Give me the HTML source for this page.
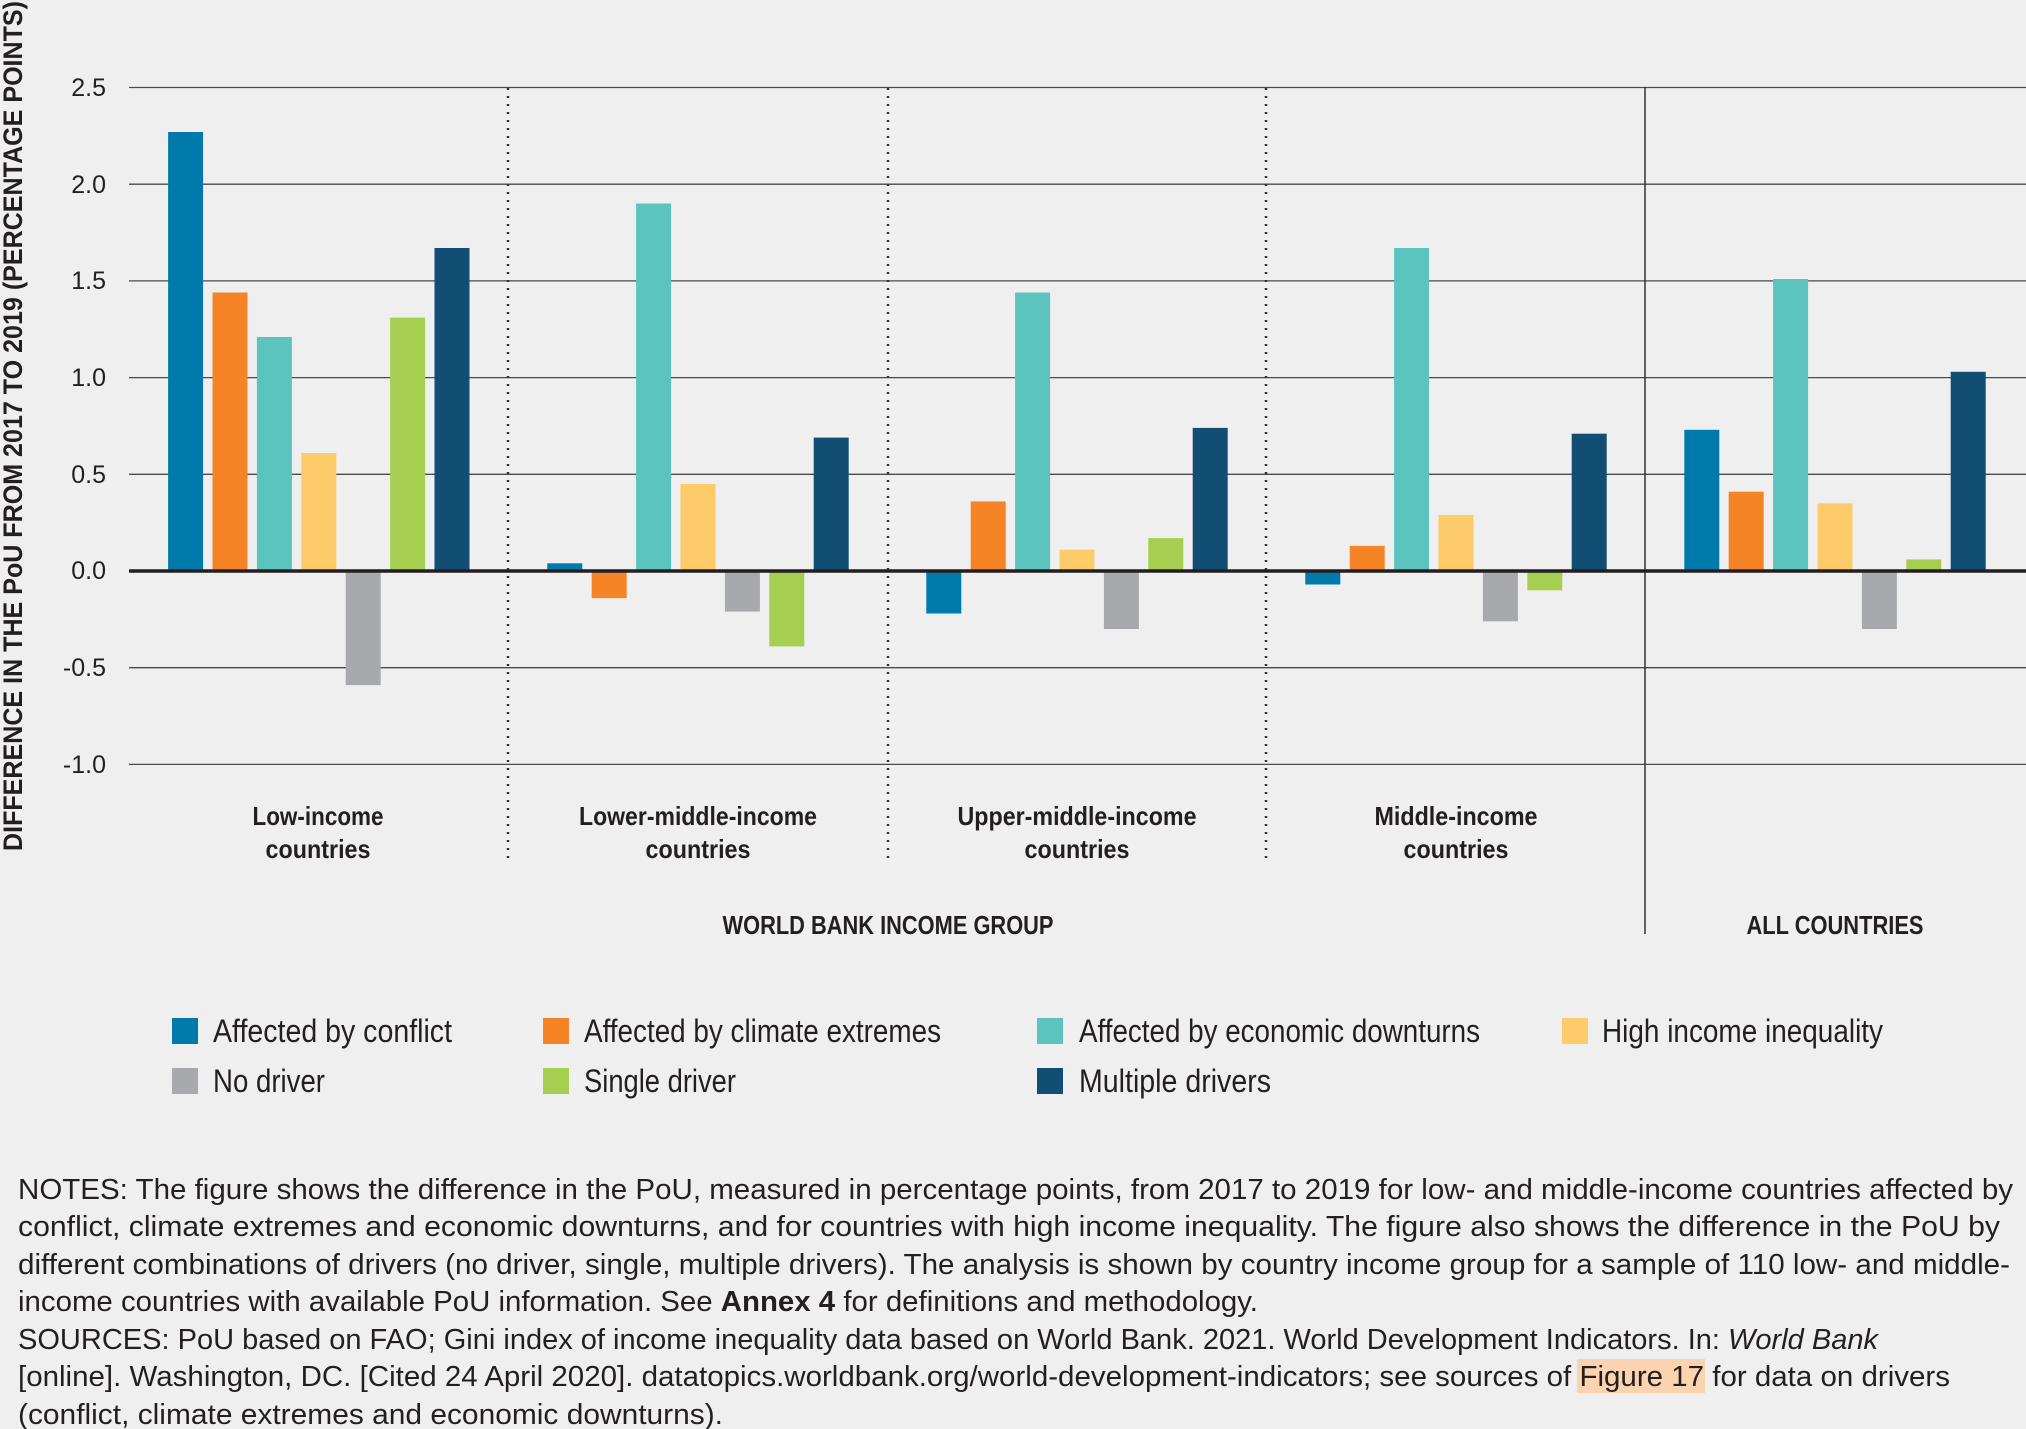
<!DOCTYPE html>
<html><head><meta charset="utf-8"><style>
html,body{margin:0;padding:0;background:#efefef;}
svg{display:block;}
.t{font-family:"Liberation Sans Narrow","Liberation Sans",sans-serif;fill:#231f20;}
.n{font-family:"Liberation Sans Narrow","Liberation Sans",sans-serif;fill:#231f20;font-size:29px;}
</style></head><body>
<svg id="s" width="2026" height="1429" viewBox="0 0 2026 1429" xmlns="http://www.w3.org/2000/svg">
<rect width="2026" height="1429" fill="#efefef"/>
<g stroke="#4a4a4a" stroke-width="1.3">
<line x1="129" y1="87.5" x2="2026" y2="87.5"/>
<line x1="129" y1="184.2" x2="2026" y2="184.2"/>
<line x1="129" y1="280.9" x2="2026" y2="280.9"/>
<line x1="129" y1="377.6" x2="2026" y2="377.6"/>
<line x1="129" y1="474.3" x2="2026" y2="474.3"/>
<line x1="129" y1="667.7" x2="2026" y2="667.7"/>
<line x1="129" y1="764.4" x2="2026" y2="764.4"/>
</g>
<g stroke="#333" stroke-width="2.5" stroke-dasharray="2,6">
<line x1="508" y1="88" x2="508" y2="858"/>
<line x1="888" y1="88" x2="888" y2="858"/>
<line x1="1266" y1="88" x2="1266" y2="858"/>
</g>
<line x1="1645" y1="87" x2="1645" y2="934" stroke="#333" stroke-width="1.5"/>
<g id="bars"></g>
<line x1="129" y1="571" x2="2026" y2="571" stroke="#231f20" stroke-width="3.5"/>
<g class="t" font-size="25" text-anchor="end">
<text x="106" y="96">2.5</text>
<text x="106" y="193">2.0</text>
<text x="106" y="289">1.5</text>
<text x="106" y="386">1.0</text>
<text x="106" y="483">0.5</text>
<text x="106" y="579">0.0</text>
<text x="106" y="676">-0.5</text>
<text x="106" y="773">-1.0</text>
</g>
<text class="t" font-size="27" font-weight="bold" transform="translate(22,426) rotate(-90)" text-anchor="middle" textLength="850" lengthAdjust="spacingAndGlyphs">DIFFERENCE IN THE PoU FROM 2017 TO 2019 (PERCENTAGE POINTS)</text>
<g class="t" font-size="26" font-weight="bold" text-anchor="middle">
<text x="318" y="825" textLength="131" lengthAdjust="spacingAndGlyphs">Low-income</text>
<text x="318" y="858" textLength="105" lengthAdjust="spacingAndGlyphs">countries</text>
<text x="698" y="825" textLength="238" lengthAdjust="spacingAndGlyphs">Lower-middle-income</text>
<text x="698" y="858" textLength="105" lengthAdjust="spacingAndGlyphs">countries</text>
<text x="1077" y="825" textLength="239" lengthAdjust="spacingAndGlyphs">Upper-middle-income</text>
<text x="1077" y="858" textLength="105" lengthAdjust="spacingAndGlyphs">countries</text>
<text x="1456" y="825" textLength="163" lengthAdjust="spacingAndGlyphs">Middle-income</text>
<text x="1456" y="858" textLength="105" lengthAdjust="spacingAndGlyphs">countries</text>
<text x="888" y="934" textLength="331" lengthAdjust="spacingAndGlyphs">WORLD BANK INCOME GROUP</text>
<text x="1835" y="934" textLength="177" lengthAdjust="spacingAndGlyphs">ALL COUNTRIES</text>
</g>
<g>
<rect x="172" y="1018" width="26" height="26" fill="#007aaa"/>
<rect x="543" y="1018" width="26" height="26" fill="#f58426"/>
<rect x="1037" y="1018" width="26" height="26" fill="#5bc4bf"/>
<rect x="1562" y="1018" width="26" height="26" fill="#fecb6a"/>
<rect x="172" y="1068" width="26" height="26" fill="#a7a9ac"/>
<rect x="543" y="1068" width="26" height="26" fill="#a6cf52"/>
<rect x="1037" y="1068" width="26" height="26" fill="#124e74"/>
</g>
<g class="t" font-size="32">
<text x="213" y="1042" textLength="239" lengthAdjust="spacingAndGlyphs">Affected by conflict</text>
<text x="584" y="1042" textLength="357" lengthAdjust="spacingAndGlyphs">Affected by climate extremes</text>
<text x="1079" y="1042" textLength="401" lengthAdjust="spacingAndGlyphs">Affected by economic downturns</text>
<text x="1602" y="1042" textLength="281" lengthAdjust="spacingAndGlyphs">High income inequality</text>
<text x="213" y="1092" textLength="112" lengthAdjust="spacingAndGlyphs">No driver</text>
<text x="584" y="1092" textLength="152" lengthAdjust="spacingAndGlyphs">Single driver</text>
<text x="1079" y="1092" textLength="192" lengthAdjust="spacingAndGlyphs">Multiple drivers</text>
</g>
<rect x="1577" y="1359" width="128" height="34" fill="#fbd3b0"/>
<g class="n">
<text x="18" y="1199" textLength="1995" lengthAdjust="spacingAndGlyphs">NOTES: The figure shows the difference in the PoU, measured in percentage points, from 2017 to 2019 for low- and middle-income countries affected by</text>
<text x="18" y="1236" textLength="1982" lengthAdjust="spacingAndGlyphs">conflict, climate extremes and economic downturns, and for countries with high income inequality. The figure also shows the difference in the PoU by</text>
<text x="18" y="1274" textLength="1992" lengthAdjust="spacingAndGlyphs">different combinations of drivers (no driver, single, multiple drivers). The analysis is shown by country income group for a sample of 110 low- and middle-</text>
<text x="18" y="1311" textLength="1240" lengthAdjust="spacingAndGlyphs">income countries with available PoU information. See <tspan font-weight="bold">Annex 4</tspan> for definitions and methodology.</text>
<text x="18" y="1349" textLength="1860" lengthAdjust="spacingAndGlyphs">SOURCES: PoU based on FAO; Gini index of income inequality data based on World Bank. 2021. World Development Indicators. In: <tspan font-style="italic">World Bank</tspan></text>
<text x="18" y="1386" textLength="1932" lengthAdjust="spacingAndGlyphs">[online]. Washington, DC. [Cited 24 April 2020]. datatopics.worldbank.org/world-development-indicators; see sources of Figure 17 for data on drivers</text>
<text x="18" y="1424" textLength="705" lengthAdjust="spacingAndGlyphs">(conflict, climate extremes and economic downturns).</text>
</g>
</svg>
<script>
var cols=["#007aaa","#f58426","#5bc4bf","#fecb6a","#a7a9ac","#a6cf52","#124e74"];
var data=[[2.27,1.44,1.21,0.61,-0.59,1.31,1.67],[0.04,-0.14,1.90,0.45,-0.21,-0.39,0.69],[-0.22,0.36,1.44,0.11,-0.30,0.17,0.74],[-0.07,0.13,1.67,0.29,-0.26,-0.10,0.71],[0.73,0.41,1.51,0.35,-0.30,0.06,1.03]];
var cs=[318.8,698,1077,1456,1835];var g=document.getElementById("bars");var h="";
for(var k=0;k<5;k++)for(var i=0;i<7;i++){var v=data[k][i];var x=cs[k]+(i-3)*44.4-17.5;var y0=571,y1=571-193.4*v;var y=Math.min(y0,y1),hh=Math.abs(y1-y0);
h+='<rect x="'+x.toFixed(1)+'" y="'+y.toFixed(1)+'" width="35" height="'+hh.toFixed(1)+'" fill="'+cols[i]+'"/>';}
g.innerHTML=h;
</script>
</body></html>
